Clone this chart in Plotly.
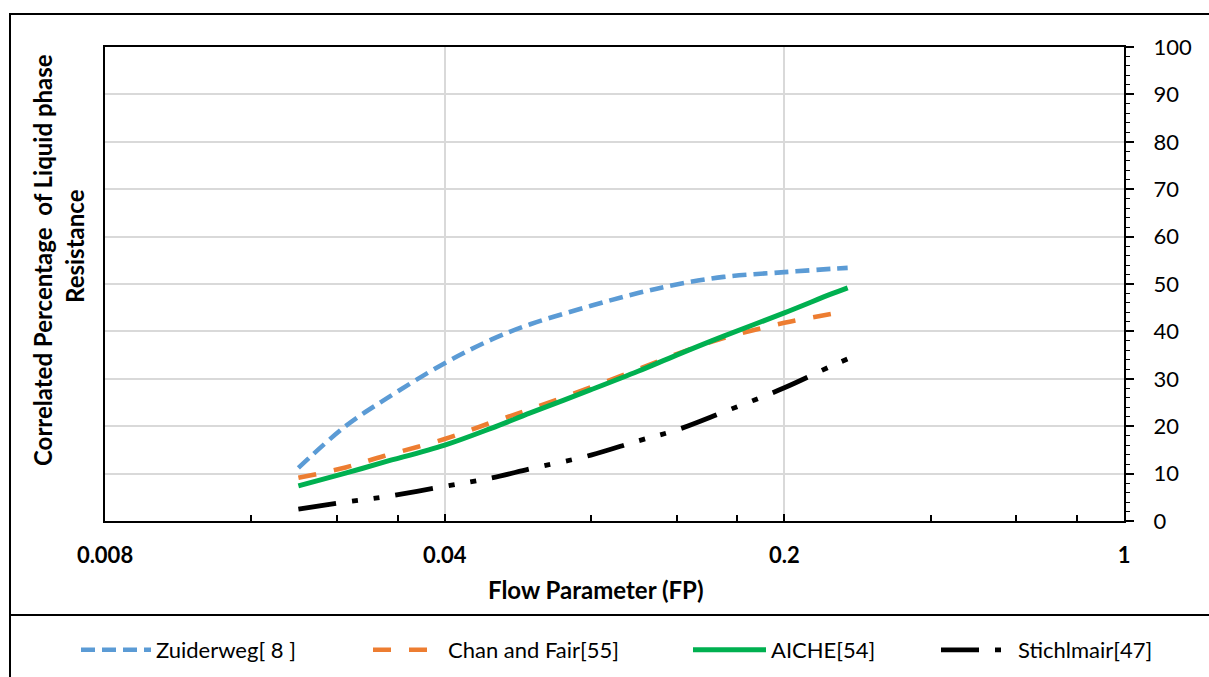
import numpy as np
import plotly.graph_objects as go

# Flow parameter values (log axis)
flow_parameter = [0.02, 0.025, 0.03, 0.04, 0.05, 0.06, 0.08, 0.10, 0.12, 0.15, 0.20, 0.25, 0.27]

# Correlated percentage of liquid phase resistance for each correlation
zuiderweg = [11.2, 20.0, 25.5, 33.3, 38.3, 41.5, 45.4, 48.1, 49.9, 51.5, 52.5, 53.2, 53.4]
chan_fair = [9.1, 11.3, 13.7, 17.3, 20.8, 23.6, 28.2, 32.0, 35.2, 38.6, 41.8, 43.7, 44.3]
aiche = [7.4, 10.1, 12.4, 16.0, 19.6, 22.8, 27.7, 31.6, 35.0, 39.0, 43.9, 47.9, 49.2]
stichlmair = [2.5, 4.0, 5.1, 7.3, 9.1, 11.0, 13.9, 16.9, 19.2, 23.0, 28.1, 32.7, 34.2]

series_names = ["Zuiderweg[ 8 ]", "Chan and Fair[55]", "AICHE[54]", "Stichlmair[47]"]
series_colors = ["#5B9BD5", "#ED7D31", "#00B050", "#000000"]

x_tick_vals = [0.008, 0.04, 0.2, 1]
x_tick_text = ["0.008", "0.04", "0.2", "1"]
x_minor_vals = [0.016, 0.024, 0.032, 0.08, 0.12, 0.16, 0.4, 0.6, 0.8]

FONT = "Lato, 'Open Sans', sans-serif"

W, H = 1209, 677
L, R, T, B = 105, 85, 47, 156
PW, PH = W - L - R, H - T - B


def px_x(p):
    return (p - L) / PW


def px_y(p):
    return (H - B - p) / PH


fig = go.Figure()

line_styles = [
    dict(color=series_colors[0], width=4.6, dash="14px,7px"),
    dict(color=series_colors[1], width=4.6, dash="18px,18px"),
    dict(color=series_colors[2], width=5),
    dict(color=series_colors[3], width=4.8, dash="38px,16px,6px,16px,6px,16px"),
]
all_series = [zuiderweg, chan_fair, aiche, stichlmair]
legend_ids = ["legend", "legend2", "legend3", "legend4"]

for name, vals, style, lg in zip(series_names, all_series, line_styles, legend_ids):
    fig.add_trace(go.Scatter(
        x=flow_parameter, y=vals, name=name, mode="lines",
        line=dict(shape="spline", smoothing=1.0, **style),
        legend=lg,
    ))

# legend boxes laid out along the bottom band
legend_x_px = [76, 368, 688, 936]
legend_item_w = [70, 70, 73, 72]
legend_common = dict(orientation="h", yanchor="middle", xanchor="left",
                     y=px_y(650), bgcolor="rgba(0,0,0,0)",
                     font=dict(family=FONT, size=22, color="#000000"))
legend_layout = {}
for lg, lx, iw in zip(legend_ids, legend_x_px, legend_item_w):
    legend_layout[lg] = dict(x=px_x(lx), itemwidth=iw, **legend_common)

fig.update_layout(
    width=W, height=H,
    margin=dict(l=L, r=R, t=T, b=B, autoexpand=False),
    paper_bgcolor="white", plot_bgcolor="white",
    font=dict(family=FONT, size=22, color="#000000"),
    showlegend=True,
    **legend_layout,
)

fig.update_xaxes(
    type="log",
    range=[np.log10(0.008), 0],
    tickmode="array", tickvals=x_tick_vals, ticktext=x_tick_text,
    tickfont=dict(family=FONT, size=22, color="#000000", weight="bold"),
    ticks="inside", ticklen=7, tickwidth=1.5, tickcolor="#000000",
    ticklabelstandoff=13,
    showgrid=True, gridcolor="#D9D9D9", gridwidth=1.5,
    showline=True, linecolor="#000000", linewidth=2.2, mirror=True,
    zeroline=False,
    minor=dict(tickmode="array", tickvals=x_minor_vals, ticks="inside",
               ticklen=6, tickwidth=1.5, tickcolor="#000000", showgrid=False),
)

fig.update_yaxes(
    side="right",
    range=[0, 100],
    tickmode="linear", tick0=0, dtick=10,
    tickfont=dict(family=FONT, size=22, color="#000000"),
    ticks="outside", ticklen=8, tickwidth=1.5, tickcolor="#000000",
    ticklabelstandoff=15,
    showgrid=True, gridcolor="#D9D9D9", gridwidth=1.5,
    showline=True, linecolor="#000000", linewidth=2, mirror=True,
    zeroline=False,
    minor=dict(dtick=2, ticks="outside", ticklen=4, tickwidth=1.2,
               tickcolor="#000000", showgrid=False),
)

# axis titles
title_font = dict(family=FONT, size=24, color="#000000", weight="bold")
fig.add_annotation(
    text="Correlated Percentage  of Liquid phase", textangle=-90,
    xref="paper", yref="paper", x=px_x(42), y=px_y(260),
    xanchor="center", yanchor="middle", showarrow=False, font=title_font,
)
fig.add_annotation(
    text="Resistance", textangle=-90,
    xref="paper", yref="paper", x=px_x(74), y=px_y(246),
    xanchor="center", yanchor="middle", showarrow=False, font=title_font,
)
fig.add_annotation(
    text="Flow Parameter (FP)",
    xref="paper", yref="paper", x=px_x(596), y=px_y(589),
    xanchor="center", yanchor="middle", showarrow=False, font=title_font,
)

# chart frame and legend band border
frame = dict(color="#000000", width=2)
fig.add_shape(type="rect", xref="paper", yref="paper",
              x0=px_x(10), x1=px_x(1215), y0=px_y(615), y1=px_y(14),
              line=frame, fillcolor="rgba(0,0,0,0)", layer="above")
fig.add_shape(type="line", xref="paper", yref="paper",
              x0=px_x(10), x1=px_x(10), y0=px_y(615), y1=px_y(682),
              line=frame, layer="above")

fig.write_html("out.html")
